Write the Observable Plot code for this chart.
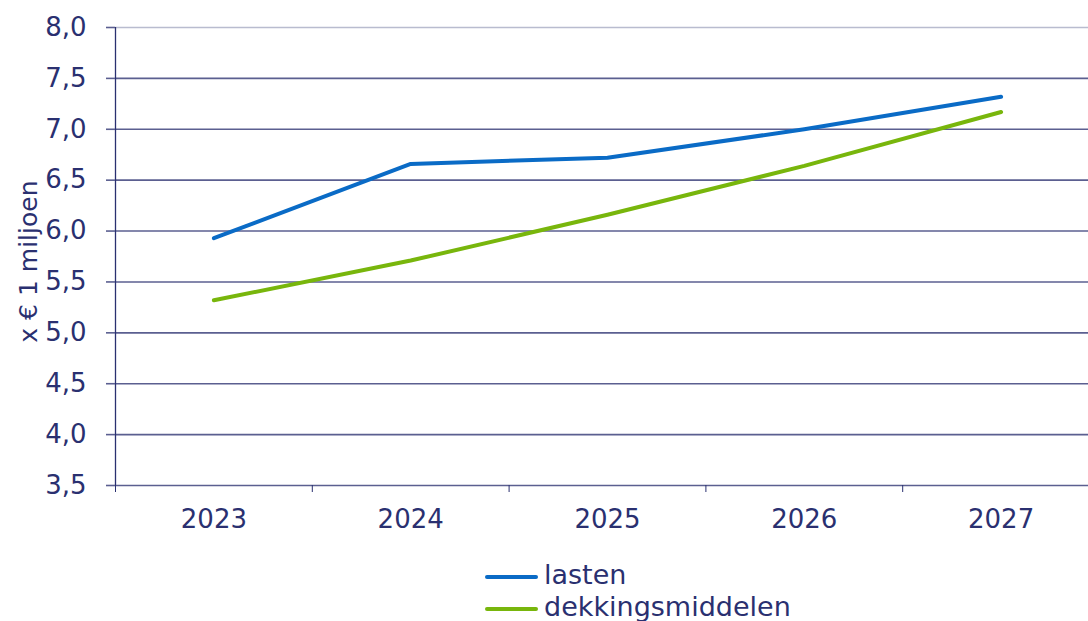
<!DOCTYPE html>
<html>
<head>
<meta charset="utf-8">
<script src="https://cdn.jsdelivr.net/npm/d3@7"></script>
<script src="https://cdn.jsdelivr.net/npm/@observablehq/plot@0.6"></script>
<style>
  body { margin: 0; background: #fff; font-family: "DejaVu Sans", sans-serif; }
  #chart svg { display: block; }
  .legend { position: relative; height: 76px; }
  .item { position: absolute; left: 485px; display: flex; align-items: center; font-size: 27px; color: #2a3070; line-height: 32px; }
  .swatch { width: 53px; height: 4px; border-radius: 2px; margin-right: 6px; margin-top: 4px; }
</style>
</head>
<body>
<div id="chart"></div>
<div class="legend" id="legend"></div>
<script>
const years = [2023, 2024, 2025, 2026, 2027];
const lasten = [5.93, 6.66, 6.72, 7.00, 7.32];
const dekkingsmiddelen = [5.32, 5.71, 6.16, 6.64, 7.17];
const seriesNames = ["lasten", "dekkingsmiddelen"];
const seriesColors = ["#0a6bc6", "#78b60c"];
const yTicks = [3.5, 4.0, 4.5, 5.0, 5.5, 6.0, 6.5, 7.0, 7.5, 8.0];
const xBoundaries = [2022.5, 2023.5, 2024.5, 2025.5, 2026.5];
const yLabel = "x € 1 miljoen";

const navy = "#2a3070";
const grid = "#5b5f90";

const data = [];
years.forEach((y, i) => {
  data.push({year: y, value: lasten[i], series: seriesNames[0]});
  data.push({year: y, value: dekkingsmiddelen[i], series: seriesNames[1]});
});

const chart = Plot.plot({
  width: 1088,
  height: 545,
  marginTop: 27,
  marginBottom: 60,
  marginLeft: 115,
  marginRight: 0,
  style: {fontFamily: "'DejaVu Sans', sans-serif", color: navy, background: "#fff", overflow: "hidden"},
  x: {type: "linear", domain: [2022.5, 2027.5], range: [115, 1099]},
  y: {domain: [3.5, 8.0]},
  color: {domain: seriesNames, range: seriesColors},
  marks: [
    Plot.ruleY(yTicks, {stroke: (d) => d === 8.0 ? "#b9bccf" : grid, strokeWidth: 1.6, x1: 2022.5, x2: 2027.5}),
    Plot.ruleX([2022.5], {stroke: navy, strokeWidth: 1.3, y1: 3.5, y2: 8.0}),
    Plot.axisY({ticks: yTicks, tickSize: 9, tickPadding: 20, tickFormat: (d) => d.toFixed(1).replace(".", ","), fontSize: 26, stroke: grid, strokeWidth: 1.6, label: null}),
    Plot.axisX({ticks: xBoundaries, tickSize: 7, tickFormat: () => "", stroke: navy, label: null}),
    Plot.axisX({ticks: years, tickSize: 0, tickPadding: 24, tickFormat: (d) => String(d), fontSize: 26, label: null}),
    Plot.text([yLabel], {x: 2022.5, y: 5.7, dx: -87, rotate: -90, fontSize: 25, fill: navy}),
    Plot.line(data, {x: "year", y: "value", z: "series", stroke: "series", strokeWidth: 4, strokeLinejoin: "round", strokeLinecap: "round"})
  ]
});
document.getElementById("chart").appendChild(chart);

const legend = document.getElementById("legend");
seriesNames.forEach((name, i) => {
  const item = document.createElement("div");
  item.className = "item";
  item.style.top = (14 + i * 32) + "px";
  const sw = document.createElement("div");
  sw.className = "swatch";
  sw.style.background = seriesColors[i];
  const label = document.createElement("span");
  label.textContent = name;
  item.appendChild(sw);
  item.appendChild(label);
  legend.appendChild(item);
});
</script>
</body>
</html>
